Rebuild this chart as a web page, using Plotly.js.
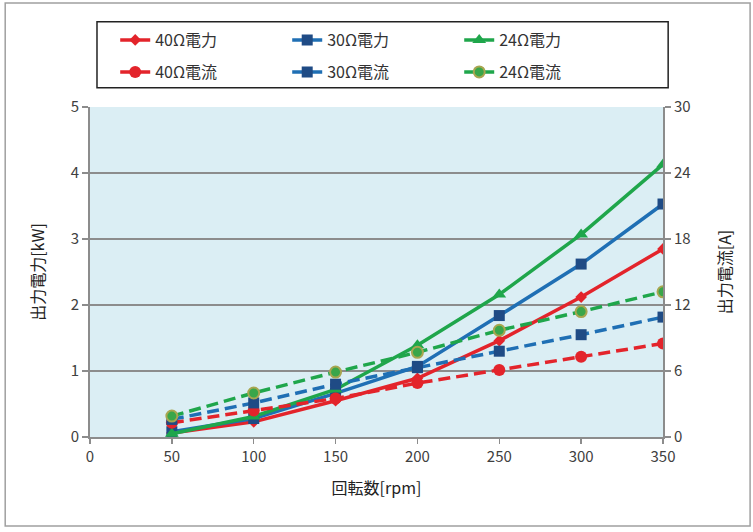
<!DOCTYPE html>
<html>
<head>
<meta charset="utf-8">
<script src="https://cdn.plot.ly/plotly-3.0.1.min.js"></script>
<style>
  html, body { margin: 0; padding: 0; background: #fff; }
  #chart { width: 753px; height: 532px; }
</style>
</head>
<body>
<div id="chart"></div>
<script>
// rpm
var rpm = [50, 100, 150, 200, 250, 300, 350];

// output power [kW]
var p40 = [0.06, 0.23, 0.55, 0.89, 1.46, 2.12, 2.85];
var p30 = [0.08, 0.28, 0.66, 1.07, 1.84, 2.62, 3.53];
var p24 = [0.05, 0.31, 0.72, 1.39, 2.16, 3.07, 4.13];

// output current [A]
var i40 = [1.3, 2.4, 3.5, 4.9, 6.1, 7.3, 8.5];
var i30 = [1.6, 3.1, 4.8, 6.3, 7.8, 9.3, 10.9];
var i24 = [1.9, 4.0, 5.9, 7.7, 9.7, 11.4, 13.2];

var names = ['40Ω電力', '30Ω電力', '24Ω電力', '40Ω電流', '30Ω電流', '24Ω電流'];

var red = '#e3242b', blue = '#1f6fb4', green = '#1fa64b', navy = '#1f4b85';
var dashed = '12px,6px';

function tr(y, name, color, dash, axis, leg, marker) {
  return {
    x: rpm, y: y, name: name, yaxis: axis, legend: leg,
    type: 'scatter', mode: 'lines+markers',
    line: {color: color, width: 3.5, dash: dash},
    marker: marker
  };
}

var data = [
  tr(p40, names[0], red, 'solid', 'y', 'legend', {symbol: 'diamond', size: 9, color: red}),
  tr(p30, names[1], blue, 'solid', 'y', 'legend', {symbol: 'square', size: 11, color: navy}),
  tr(p24, names[2], green, 'solid', 'y', 'legend', {symbol: 'triangle-up', size: 12, color: green}),
  tr(i40, names[3], red, dashed, 'y2', 'legend2', {symbol: 'circle', size: 12, color: red}),
  tr(i30, names[4], blue, dashed, 'y2', 'legend2', {symbol: 'square', size: 11, color: navy}),
  tr(i24, names[5], green, dashed, 'y2', 'legend2', {symbol: 'circle', size: 11, color: '#3aa64a', line: {color: '#a8a650', width: 2}})
];

var tickFont = {family: 'Noto Sans CJK JP, sans-serif', size: 15, color: '#404040'};
var titleFont = {family: 'Noto Sans CJK JP, sans-serif', size: 16, color: '#222'};
var legFont = {family: 'Noto Sans CJK JP, sans-serif', size: 16, color: '#333'};

function leg(y) {
  return {
    orientation: 'h',
    x: 0.044, xanchor: 'left',
    y: y, yanchor: 'middle',
    entrywidth: 127,
    bgcolor: 'rgba(0,0,0,0)',
    borderwidth: 0,
    font: legFont,
    traceorder: 'normal'
  };
}

var layout = {
  width: 753,
  height: 532,
  margin: {l: 90, r: 90, t: 107, b: 95},
  paper_bgcolor: '#fff',
  plot_bgcolor: '#dbeef4',
  showlegend: true,
  legend: leg(1.203),
  legend2: leg(1.106),
  xaxis: {
    range: [0, 350], dtick: 50, tick0: 0,
    showgrid: false, zeroline: false,
    showline: true, linecolor: '#8c8c8c', linewidth: 2,
    ticks: 'outside', ticklen: 5, tickcolor: '#8c8c8c', tickwidth: 1.5,
    tickfont: tickFont,
    title: {text: '回転数[rpm]', font: titleFont, standoff: 18}
  },
  yaxis: {
    range: [0, 5], dtick: 1,
    showgrid: true, gridcolor: '#8c8c8c', gridwidth: 1.5,
    zeroline: false,
    showline: true, linecolor: '#8c8c8c', linewidth: 2,
    ticks: 'outside', ticklen: 6, tickcolor: '#8c8c8c', tickwidth: 1.5,
    tickfont: tickFont,
    title: {text: '出力電力[kW]', font: titleFont, standoff: 22}
  },
  yaxis2: {
    range: [0, 30], dtick: 6,
    overlaying: 'y', side: 'right',
    showgrid: false, zeroline: false,
    showline: true, linecolor: '#8c8c8c', linewidth: 2,
    ticks: 'outside', ticklen: 6, tickcolor: '#8c8c8c', tickwidth: 1.5,
    tickfont: tickFont,
    title: {text: '出力電流[A]', font: titleFont, standoff: 30}
  },
  shapes: [{
    type: 'rect', xref: 'paper', yref: 'paper',
    x0: -0.148, x1: 1.152, y0: -0.27, y1: 1.315,
    line: {color: '#a0a0a0', width: 1.5}
  }, {
    type: 'rect', xref: 'paper', yref: 'paper',
    x0: 0.0122, x1: 1.009, y0: 1.058, y1: 1.258,
    line: {color: '#222', width: 1.5}
  }]
};

Plotly.newPlot('chart', data, layout, {displayModeBar: false, staticPlot: true});
</script>
</body>
</html>
